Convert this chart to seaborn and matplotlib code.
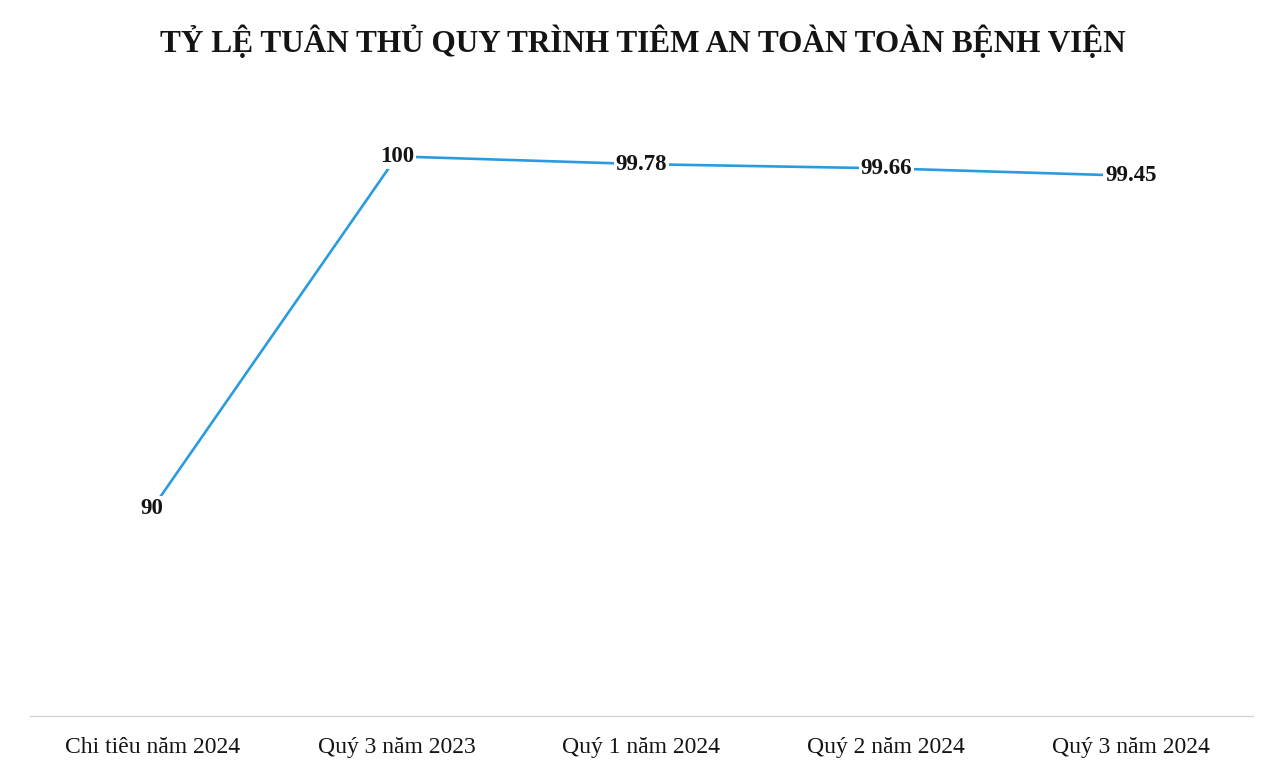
import matplotlib
matplotlib.use("Agg")
import matplotlib.pyplot as plt
import seaborn as sns
import pandas as pd

# Compliance rate with the safe-injection procedure, by period
periods = ["Chi tiêu năm 2024", "Quý 3 năm 2023", "Quý 1 năm 2024",
           "Quý 2 năm 2024", "Quý 3 năm 2024"]
rates = [90, 100, 99.78, 99.66, 99.45]
rate_labels = ["90", "100", "99.78", "99.66", "99.45"]

title = "TỶ LỆ TUÂN THỦ QUY TRÌNH TIÊM AN TOÀN TOÀN BỆNH VIỆN"

sns.set_theme(style="white")
plt.rcParams["font.family"] = ["Liberation Serif", "DejaVu Serif"]

df = pd.DataFrame({"period": periods, "rate": rates})

fig = plt.figure(figsize=(12.85, 7.67), dpi=100)
W, H = 1285, 767
left, right, bottom_px, top_px = 30, 1253, 716, 86
ax = fig.add_axes([left / W, (H - bottom_px) / H, (right - left) / W,
                   (bottom_px - top_px) / H])

sns.lineplot(data=df, x="period", y="rate", sort=False, ax=ax,
             color="#2b9be0", linewidth=1.9)

ax.set_xlim(-0.5, len(periods) - 0.5)
ax.set_ylim(84.1, 102)

for i, (v, txt) in enumerate(zip(rates, rate_labels)):
    ax.annotate(txt, (i, v), ha="center", va="center", fontsize=16.5,
                fontweight="bold", color="#141414",
                bbox=dict(boxstyle="square,pad=0.08", fc="white", ec="none"))

ax.set_xlabel("")
ax.set_ylabel("")
ax.set_yticks([])
ax.tick_params(axis="x", length=0, labelsize=17, colors="#141414", pad=15)
for s in ["top", "right", "left"]:
    ax.spines[s].set_visible(False)
ax.spines["bottom"].set_color("#d4d4d4")
ax.spines["bottom"].set_linewidth(1.0)

fig.text(0.5, (H - 42) / H, title, ha="center", va="center",
         fontsize=22.5, fontweight="bold", color="#141414")

fig.savefig("out.png", dpi=100, facecolor="white")
